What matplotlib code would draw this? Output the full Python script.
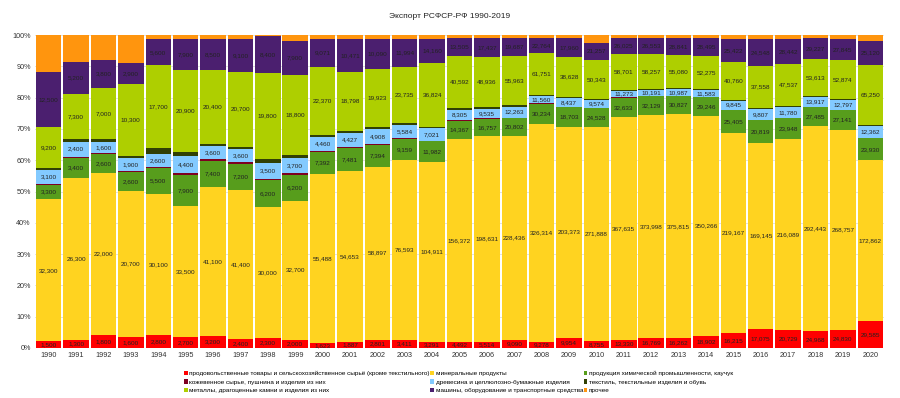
import numpy as np
import matplotlib.pyplot as plt
from matplotlib.ticker import PercentFormatter

plt.rcParams['font.family'] = ['Liberation Sans', 'DejaVu Sans']

years = list(range(1990, 2021))

food = [1500, 1300, 1800, 1600, 2800, 2700, 3200, 2400, 2300, 2000, 1623, 1887, 2801, 3411, 3291,
        4492, 5514, 9090, 9278, 9954, 8755, 13330, 16769, 16262, 18902, 16215, 17075, 20729, 24968, 24830, 29585]
mineral = [32300, 26300, 22000, 20700, 30100, 33500, 41100, 41400, 30000, 32700, 55488, 54653, 58897, 76593, 104911,
           156372, 198631, 228436, 326314, 203373, 271888, 367635, 373998, 375815, 350266, 219167, 169145, 216089,
           292443, 268757, 172862]
chem = [3300, 3400, 2600, 2600, 5500, 7900, 7400, 7200, 6200, 6200, 7392, 7481, 7394, 9159, 11982,
        14367, 16757, 20802, 30234, 18703, 24528, 32633, 32129, 30827, 29246, 25405, 20819, 23948, 27485, 27141, 23930]
# leather, textile and other are not labelled in the reference
leather = [300, 150, 100, 200, 300, 400, 350, 400, 350, 300, 300, 300, 300, 300, 300,
           300, 400, 400, 400, 300, 300, 400, 400, 400, 400, 300, 300, 300, 400, 400, 400]
wood = [3100, 2400, 1600, 1900, 2600, 4400, 3600, 3600, 3500, 3700, 4460, 4427, 4908, 5584, 7021,
        8305, 9535, 12263, 11560, 8437, 9574, 11273, 10191, 10987, 11583, 9845, 9807, 11780, 13917, 12797, 12362]
textile = [500, 500, 300, 200, 1300, 1100, 700, 700, 900, 700, 700, 800, 700, 800, 1000,
           1000, 1200, 1300, 1400, 1000, 1200, 1500, 1500, 1500, 1400, 1100, 1100, 1300, 1400, 1500, 1400]
metals = [9200, 7300, 7000, 10300, 17700, 20900, 20400, 20700, 19800, 18800, 22370, 18798, 19923, 23735, 36824,
          40592, 48936, 55963, 61751, 38628, 50343, 58701, 58257, 55080, 52275, 40760, 37558, 47537, 53613, 52874, 65250]
machines = [12500, 5200, 3800, 2900, 5600, 7900, 8500, 9100, 8400, 7900, 9071, 10471, 10090, 11994, 14160,
            13505, 17437, 19687, 22764, 17960, 21257, 26025, 26553, 28841, 28495, 25422, 24548, 28442, 29227, 27845, 25120]
other = [8500, 4400, 3400, 4000, 900, 1000, 1100, 1100, 300, 1500, 1400, 1300, 1400, 1700, 2300,
         2400, 3300, 3500, 4800, 3200, 10000, 5500, 5500, 5500, 5000, 4500, 4000, 4500, 5000, 5500, 7000]

series = [
    ('продовольственные товары и сельскохозяйственное сырьё (кроме текстильного)', food, '#ff0000', True),
    ('минеральные продукты', mineral, '#ffd320', True),
    ('продукция химической промышленности, каучук', chem, '#579d1c', True),
    ('кожевенное сырье, пушнина и изделия из них', leather, '#7e0021', False),
    ('древесина и целлюлозно-бумажные изделия', wood, '#83caff', True),
    ('текстиль, текстильные изделия и обувь', textile, '#314004', False),
    ('металлы, драгоценные камни и изделия из них', metals, '#aecf00', True),
    ('машины, оборудование и транспортные средства', machines, '#4b1f6f', True),
    ('прочее', other, '#ff950e', False),
]

data = np.array([s[1] for s in series], dtype=float)
total = data.sum(axis=0)
share = data / total

fig = plt.figure(figsize=(9, 3.98), dpi=100)
ax = fig.add_axes([35/900, 1-348/398, 849/900, 313/398])

x = np.arange(len(years))
bottom = np.zeros(len(years))
handles = []
for i, (name, vals, color, labelled) in enumerate(series):
    h = ax.bar(x, share[i], 0.93, bottom=bottom, color=color, label=name, zorder=2)
    handles.append(h)
    if labelled:
        for j in range(len(years)):
            ax.text(x[j], bottom[j] + share[i][j]/2, f'{int(vals[j]):,}', ha='center', va='center',
                    fontsize=4.6, color='#222222', zorder=3)
    bottom += share[i]

ax.set_xlim(-0.5, len(years) - 0.5)
ax.set_ylim(0, 1)
ax.set_yticks(np.arange(0, 1.01, 0.1))
ax.yaxis.set_major_formatter(PercentFormatter(1.0, decimals=0))
ax.set_xticks(x)
ax.set_xticklabels([str(y) for y in years])
ax.tick_params(axis='both', labelsize=5.2, length=0, colors='#333333', pad=3)
ax.grid(axis='y', color='#dddddd', linewidth=0.6, zorder=0)
for s in ax.spines.values():
    s.set_visible(False)

fig.suptitle('Экспорт РСФСР-РФ 1990-2019', y=1-17/398, va='center', fontsize=6.0, color='#222222')

order = [0, 3, 6, 1, 4, 7, 2, 5, 8]
fig.legend([handles[k] for k in order], [series[k][0] for k in order], ncol=3,
           loc='upper left', bbox_to_anchor=(184/900, 1-371/398), frameon=False, fontsize=4.6,
           handlelength=0.6, handleheight=0.6, handletextpad=0.25, columnspacing=0.05,
           labelspacing=0.5, borderaxespad=0, borderpad=0)

fig.savefig('out.png', dpi=100)
